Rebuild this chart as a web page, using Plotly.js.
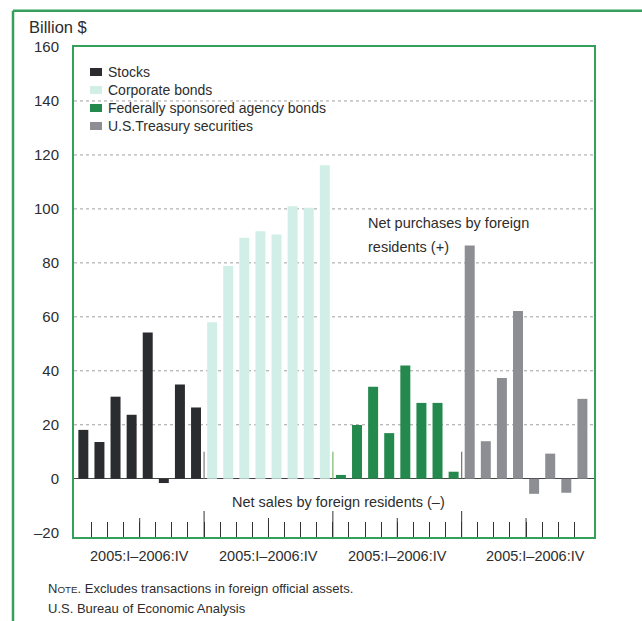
<!DOCTYPE html>
<html><head><meta charset="utf-8">
<script src="https://cdn.plot.ly/plotly-3.0.1.min.js"></script>
<style>html,body{margin:0;padding:0;background:#fff}#chart{width:642px;height:621px}</style>
</head><body><div id="chart"></div>
<script>
// ---- data ----
const quarters = ['2005:I','2005:II','2005:III','2005:IV','2006:I','2006:II','2006:III','2006:IV'];
const seriesNames = ['Stocks','Corporate bonds','Federally sponsored agency bonds','U.S.Treasury securities'];
const stocks = [18.1, 13.6, 30.4, 23.7, 54.2, -1.6, 34.9, 26.4];
const corporateBonds = [58.0, 78.8, 89.3, 91.7, 90.5, 101.0, 100.4, 116.2];
const agencyBonds = [1.4, 19.9, 34.1, 16.9, 42.0, 28.1, 28.1, 2.6];
const treasurySecurities = [86.4, 13.9, 37.3, 62.2, -5.6, 9.3, -5.2, 29.6];
const groupLabel = '2005:I\u20132006:IV';
const yTickVals = [-20, 0, 20, 40, 60, 80, 100, 120, 140, 160];
const yTickText = ['\u201320', '0', '20', '40', '60', '80', '100', '120', '140', '160'];
const gridVals = [20, 40, 60, 80, 100, 120, 140];

// ---- style ----
const W = 642, H = 621;
const M = {l: 74, r: 48, t: 47, b: 84};
const PW = W - M.l - M.r, PH = H - M.t - M.b;
const px = x => (x - M.l) / PW;
const py = y => (H - M.b - y) / PH;
const GREEN = '#35a05c';
const TXT = '#2d2d2d';
const FONT = 'Liberation Sans, Arial, Helvetica, sans-serif';
const colors = ['#2a2c2f', '#d2efe7', '#23894c', '#8c8e93'];
const sepColors = ['#7d7d7d', '#79b86a', '#6f7074'];

const allSeries = [stocks, corporateBonds, agencyBonds, treasurySecurities];
const n = quarters.length;

const traces = allSeries.map((vals, s) => ({
  type: 'bar',
  name: seriesNames[s],
  x: quarters.map((q, i) => s * n + i),
  y: vals,
  hovertext: quarters,
  width: 0.62,
  showlegend: false,
  marker: {color: colors[s], line: {width: 0}},
}));

const nSlots = allSeries.length * n;
const shortTicks = [];
for (let i = 0; i < nSlots - 1; i++) shortTicks.push(i + 0.5);

const shapes = [];
// dotted gridlines
gridVals.forEach(v => shapes.push({type: 'line', xref: 'paper', x0: 0, x1: 1, yref: 'y', y0: v, y1: v,
  line: {color: '#a0a0a0', width: 1, dash: 'dot'}, layer: 'below'}));
// taller ticks: year boundary inside group, and group boundaries
for (let g = 0; g < allSeries.length; g++) {
  const xm = g * n + n / 2 - 0.5;
  shapes.push({type: 'line', xref: 'x', x0: xm, x1: xm, yref: 'paper', y0: 0, y1: 19 / PH, line: {color: '#333', width: 1}});
  if (g > 0) {
    const xb = g * n - 0.5;
    shapes.push({type: 'line', xref: 'x', x0: xb, x1: xb, yref: 'paper', y0: 0, y1: 26 / PH, line: {color: '#333', width: 1}});
    shapes.push({type: 'line', xref: 'x', x0: xb, x1: xb, yref: 'y', y0: 0, y1: 10, line: {color: sepColors[g - 1], width: 1.2}});
  }
}
// outer frame (top and left)
shapes.push({type: 'line', xref: 'paper', yref: 'paper', x0: px(13), x1: px(W + 5), y0: py(10.7), y1: py(10.7), line: {color: GREEN, width: 2.5}});
shapes.push({type: 'line', xref: 'paper', yref: 'paper', x0: px(13), x1: px(13), y0: py(10.7), y1: py(H + 5), line: {color: GREEN, width: 2.5}});

const annotations = [
  {text: 'Billion $', xref: 'paper', yref: 'paper', x: px(27), y: py(27), xanchor: 'left', yanchor: 'middle', showarrow: false, font: {size: 16.5, color: TXT}},
  {text: 'Net purchases by foreign', xref: 'paper', yref: 'paper', x: px(366), y: py(223), xanchor: 'left', yanchor: 'middle', showarrow: false, font: {size: 14.5, color: TXT}},
  {text: 'residents (+)', xref: 'paper', yref: 'paper', x: px(366), y: py(247), xanchor: 'left', yanchor: 'middle', showarrow: false, font: {size: 14.5, color: TXT}},
  {text: 'Net sales by foreign residents (\u2013)', xref: 'paper', yref: 'paper', x: px(338), y: py(502), xanchor: 'center', yanchor: 'middle', showarrow: false, font: {size: 14.5, color: TXT}},
  {text: 'N<span style="font-size:9.8px">OTE</span>. Excludes transactions in foreign official assets.', xref: 'paper', yref: 'paper', x: px(46), y: py(588), xanchor: 'left', yanchor: 'middle', showarrow: false, font: {size: 13, color: TXT}},
  {text: 'U.S. Bureau of Economic Analysis', xref: 'paper', yref: 'paper', x: px(46), y: py(608), xanchor: 'left', yanchor: 'middle', showarrow: false, font: {size: 13, color: TXT}},
];
allSeries.forEach((vals, g) => annotations.push({
  text: groupLabel, xref: 'x', yref: 'paper', x: g * n + n / 2 - 0.5, y: py(556),
  xanchor: 'center', yanchor: 'middle', showarrow: false, font: {size: 14.5, color: TXT},
  xshift: g === 3 ? 9 : 0
}));

// manual legend (swatch + label per series)
seriesNames.forEach((name, s) => {
  const cy = 72 + s * 18;
  shapes.push({type: 'rect', xref: 'paper', yref: 'paper', x0: px(90), x1: px(102), y0: py(cy + 4), y1: py(cy - 4),
    fillcolor: colors[s], line: {width: 0}});
  annotations.push({text: name, xref: 'paper', yref: 'paper', x: px(106), y: py(cy), xanchor: 'left', yanchor: 'middle',
    showarrow: false, font: {size: 14, color: TXT}});
});

const layout = {
  width: W, height: H,
  margin: M,
  paper_bgcolor: '#fff', plot_bgcolor: '#fff',
  font: {family: FONT, color: TXT},
  barmode: 'overlay',
  showlegend: false,
  xaxis: {range: [-0.58, nSlots - 0.28], showline: true, mirror: true, linecolor: GREEN, linewidth: 2,
    showgrid: false, zeroline: false, ticks: 'inside', tickvals: shortTicks, ticklen: 15, tickwidth: 1,
    tickcolor: '#333', showticklabels: false, fixedrange: true},
  yaxis: {range: [-21.6, 160], showline: true, mirror: true, linecolor: GREEN, linewidth: 2,
    showgrid: false, zeroline: true, zerolinecolor: '#444', zerolinewidth: 1,
    tickvals: yTickVals, ticktext: yTickText, ticks: '', ticklabelstandoff: 10,
    tickfont: {size: 15, color: TXT}, fixedrange: true},
  shapes: shapes,
  annotations: annotations,
};

Plotly.newPlot('chart', traces, layout, {displayModeBar: false, staticPlot: true});
</script>
</body></html>
